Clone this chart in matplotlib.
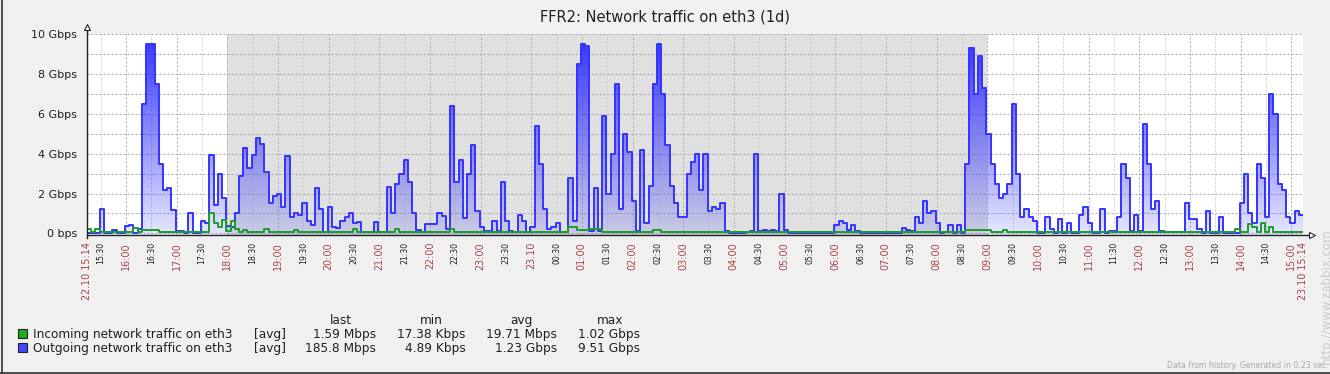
import numpy as np
import matplotlib
matplotlib.use("Agg")
import matplotlib.pyplot as plt
from matplotlib.patches import PathPatch, Rectangle
from matplotlib.lines import Line2D

W, H = 1330, 374

title = "FFR2: Network traffic on eth3 (1d)"

# one sample every 5 minutes from 22.10 15:14, values in Gbps (12 samples = 1 hour per row)
step_min = 5
outgoing = [
    0.0, 0.0, 0.0, 1.2, 0.0, 0.0, 0.15, 0.0, 0.0, 0.35, 0.4, 0.0,
    0.2, 6.5, 9.5, 9.5, 7.5, 3.5, 2.2, 2.3, 1.15, 0.1, 0.1, 0.0,
    1.0, 0.0, 0.0, 0.6, 0.5, 3.95, 1.4, 3.0, 1.8, 0.35, 0.3, 1.0,
    2.9, 4.28, 3.3, 3.95, 4.8, 4.5, 3.1, 1.5, 1.9, 2.0, 1.3, 3.9,
    0.8, 1.0, 0.9, 1.5, 0.6, 0.4, 2.3, 1.2, 0.05, 1.3, 0.3, 0.25,
    0.6, 0.8, 1.0, 0.5, 0.55, 0.05, 0.05, 0.05, 0.55, 0.05, 0.05, 2.33,
    1.0, 2.5, 3.0, 3.67, 2.6, 1.0, 0.15, 0.05, 0.48, 0.48, 0.48, 1.0,
    0.87, 0.2, 6.4, 2.6, 3.7, 0.78, 3.0, 4.45, 1.1, 0.3, 0.1, 0.1,
    0.6, 0.1, 2.6, 0.6, 0.1, 0.05, 0.9, 0.6, 0.05, 0.3, 5.4, 3.5,
    1.2, 0.2, 0.3, 0.5, 0.05, 0.05, 2.8, 0.6, 8.5, 9.5, 9.4, 0.1,
    2.3, 0.1, 5.9, 2.0, 4.0, 7.5, 1.2, 5.0, 4.08, 1.6, 0.1, 4.2,
    0.5, 2.4, 7.5, 9.5, 7.0, 4.45, 2.4, 1.5, 0.8, 0.8, 3.0, 3.6,
    4.0, 2.2, 4.0, 1.1, 1.3, 1.2, 1.5, 0.1, 0.0, 0.0, 0.0, 0.0,
    0.05, 0.1, 4.0, 0.1, 0.15, 0.1, 0.15, 0.1, 2.0, 0.15, 0.0, 0.0,
    0.0, 0.0, 0.0, 0.0, 0.0, 0.0, 0.0, 0.0, 0.0, 0.4, 0.6, 0.5,
    0.15, 0.4, 0.1, 0.0, 0.0, 0.0, 0.0, 0.0, 0.0, 0.0, 0.0, 0.0,
    0.0, 0.25, 0.15, 0.1, 0.8, 0.5, 1.6, 1.0, 1.1, 0.5, 0.0, 0.05,
    0.4, 0.0, 0.4, 0.0, 3.5, 9.3, 7.0, 8.9, 7.3, 5.0, 3.5, 2.5,
    1.8, 2.0, 2.5, 6.5, 3.0, 0.8, 1.2, 0.8, 0.6, 0.0, 0.0, 0.8,
    0.2, 0.0, 0.7, 0.0, 0.5, 0.0, 0.0, 0.9, 1.3, 0.5, 0.0, 0.0,
    1.2, 0.0, 0.1, 0.1, 0.8, 3.5, 2.8, 0.1, 0.9, 0.1, 5.5, 3.5,
    1.2, 1.6, 0.1, 0.05, 0.05, 0.05, 0.05, 0.05, 1.5, 0.7, 0.7, 0.2,
    0.0, 1.1, 0.0, 0.0, 0.8, 0.0, 0.0, 0.0, 0.0, 1.5, 3.0, 1.0,
    0.5, 3.5, 2.8, 0.8, 7.0, 6.0, 2.5, 2.2, 0.8, 0.5, 1.1, 0.9,
]
incoming = [
    0.2, 0.06, 0.2, 0.06, 0.06, 0.06, 0.06, 0.06, 0.06, 0.06, 0.06, 0.28,
    0.06, 0.15, 0.15, 0.15, 0.15, 0.06, 0.06, 0.06, 0.06, 0.06, 0.06, 0.06,
    0.06, 0.06, 0.06, 0.06, 0.06, 1.0, 0.5, 0.3, 0.67, 0.1, 0.6, 0.2,
    0.06, 0.15, 0.06, 0.06, 0.06, 0.06, 0.2, 0.06, 0.06, 0.06, 0.06, 0.06,
    0.06, 0.15, 0.06, 0.06, 0.06, 0.06, 0.06, 0.06, 0.06, 0.06, 0.06, 0.06,
    0.06, 0.06, 0.06, 0.2, 0.06, 0.06, 0.06, 0.06, 0.06, 0.06, 0.06, 0.06,
    0.06, 0.2, 0.06, 0.06, 0.06, 0.06, 0.06, 0.06, 0.06, 0.06, 0.06, 0.06,
    0.06, 0.06, 0.2, 0.06, 0.06, 0.06, 0.06, 0.06, 0.06, 0.06, 0.06, 0.06,
    0.06, 0.06, 0.06, 0.06, 0.06, 0.06, 0.06, 0.06, 0.06, 0.06, 0.06, 0.06,
    0.06, 0.06, 0.06, 0.06, 0.06, 0.06, 0.3, 0.3, 0.15, 0.15, 0.15, 0.2,
    0.2, 0.2, 0.06, 0.06, 0.06, 0.06, 0.06, 0.06, 0.06, 0.06, 0.06, 0.06,
    0.06, 0.06, 0.15, 0.15, 0.06, 0.06, 0.06, 0.06, 0.06, 0.06, 0.06, 0.06,
    0.06, 0.06, 0.06, 0.06, 0.06, 0.06, 0.06, 0.06, 0.06, 0.06, 0.06, 0.06,
    0.06, 0.06, 0.06, 0.06, 0.06, 0.06, 0.06, 0.06, 0.06, 0.06, 0.06, 0.06,
    0.06, 0.06, 0.06, 0.06, 0.06, 0.06, 0.06, 0.06, 0.06, 0.06, 0.06, 0.06,
    0.06, 0.06, 0.06, 0.06, 0.06, 0.06, 0.06, 0.06, 0.06, 0.06, 0.06, 0.06,
    0.06, 0.06, 0.06, 0.06, 0.06, 0.06, 0.06, 0.06, 0.06, 0.06, 0.06, 0.06,
    0.06, 0.06, 0.06, 0.06, 0.17, 0.17, 0.17, 0.17, 0.17, 0.17, 0.06, 0.06,
    0.06, 0.15, 0.06, 0.06, 0.06, 0.06, 0.06, 0.06, 0.06, 0.06, 0.06, 0.06,
    0.06, 0.06, 0.06, 0.06, 0.06, 0.06, 0.06, 0.06, 0.06, 0.06, 0.06, 0.06,
    0.06, 0.06, 0.06, 0.06, 0.06, 0.06, 0.06, 0.06, 0.06, 0.06, 0.06, 0.06,
    0.06, 0.06, 0.06, 0.06, 0.06, 0.06, 0.06, 0.06, 0.06, 0.06, 0.06, 0.06,
    0.06, 0.06, 0.06, 0.06, 0.06, 0.06, 0.06, 0.06, 0.2, 0.06, 0.06, 0.45,
    0.3, 0.06, 0.5, 0.06, 0.3, 0.06, 0.06, 0.06, 0.06, 0.06, 0.06, 0.06,
]

# minutes after 15:14 where the non-working time starts (18:00) and ends (09:00)
nonwork = (166, 1066)

start_label = "22.10 15:14"
end_label = "23.10 15:14"
hour_labels = ["16:00", "17:00", "18:00", "19:00", "20:00", "21:00", "22:00", "23:00",
               "23.10", "01:00", "02:00", "03:00", "04:00", "05:00", "06:00", "07:00",
               "08:00", "09:00", "10:00", "11:00", "12:00", "13:00", "14:00", "15:00"]
half_labels = ["15:30", "16:30", "17:30", "18:30", "19:30", "20:30", "21:30", "22:30",
               "23:30", "00:30", "01:30", "02:30", "03:30", "04:30", "05:30", "06:30",
               "07:30", "08:30", "09:30", "10:30", "11:30", "12:30", "13:30", "14:30"]
ytick_labels = ["0 bps", "2 Gbps", "4 Gbps", "6 Gbps", "8 Gbps", "10 Gbps"]

legend_names = ["Incoming network traffic on eth3", "Outgoing network traffic on eth3"]
legend_colors = ["#1cac1c", "#4444ff"]
stat_last = ["1.59 Mbps", "185.8 Mbps"]
stat_min = ["17.38 Kbps", "4.89 Kbps"]
stat_avg = ["19.71 Mbps", "1.23 Gbps"]
stat_max = ["1.02 Gbps", "9.51 Gbps"]


def fx(x):
    return x / W


def fy(y):
    return 1 - y / H


fig = plt.figure(figsize=(W / 100, H / 100), dpi=100, facecolor="#f0f0f0")
ax = fig.add_axes([fx(87), fy(235), 1216 / W, 201 / H])
ax.set_facecolor("white")

ymin = -0.08
t = np.arange(len(outgoing) + 1) * step_min
out_y = np.append(outgoing, outgoing[-1])
in_y = np.append(incoming, incoming[-1])

ax.axvspan(nonwork[0], nonwork[1], color="#e0e0e0", lw=0, zorder=0.1)

# gradient fill under the outgoing line
grad = np.zeros((256, 1, 4))
grad[..., 0] = 0x33 / 255
grad[..., 1] = 0x33 / 255
grad[..., 2] = 1.0
grad[:, 0, 3] = np.linspace(0.12, 1.0, 256)
im = ax.imshow(grad, extent=[0, t[-1], ymin, 10], origin="lower", aspect="auto",
               interpolation="bilinear", zorder=2)
fill = ax.fill_between(t, out_y, ymin, step="post", facecolor="none", edgecolor="none")
clip = PathPatch(fill.get_paths()[0], transform=ax.transData, facecolor="none", edgecolor="none")
ax.add_patch(clip)
im.set_clip_path(clip)

ax.plot(t, out_y, drawstyle="steps-post", color="#3333ff", lw=1.4, zorder=3)
ax.plot(t, in_y, drawstyle="steps-post", color="#1a9e26", lw=1.4, zorder=4)

ax.set_xlim(0, t[-1])
ax.set_ylim(ymin, 10)

hour_pos = [46 + 60 * k for k in range(len(hour_labels))]
half_pos = [16 + 60 * k for k in range(len(half_labels))]
ax.set_xticks([0] + hour_pos + [t[-1]], [start_label] + hour_labels + [end_label])
ax.set_xticks(half_pos, half_labels, minor=True)
ax.tick_params(axis="x", which="major", length=0, pad=5, labelsize=6.9,
               labelcolor="#aa4444", labelrotation=90)
ax.tick_params(axis="x", which="minor", length=0, pad=5, labelsize=5.6,
               labelcolor="#202020", labelrotation=90)

ax.set_yticks([0, 2, 4, 6, 8, 10], ytick_labels)
ax.set_yticks([1, 3, 5, 7, 9], minor=True)
ax.tick_params(axis="y", which="both", length=0, pad=7, labelsize=8, labelcolor="#202020")

ax.set_axisbelow(True)
dash = (0, (2, 2))
ax.xaxis.grid(True, which="major", color="#aaaaaa", ls=dash, lw=0.72)
ax.xaxis.grid(True, which="minor", color="#cccccc", ls=dash, lw=0.72)
ax.yaxis.grid(True, which="both", color="#aaaaaa", ls=dash, lw=0.72)

for s in ax.spines.values():
    s.set_visible(False)

# axes with open arrow heads
ax.plot([0, 0], [-0.015, 1.025], transform=ax.transAxes, color="#222222", lw=1,
        clip_on=False, zorder=6)
ax.plot([0, 1.005], [0, 0], transform=ax.transAxes, color="#222222", lw=1,
        clip_on=False, zorder=6)
ax.plot([0], [1.037], marker="^", ms=5, mfc="white", mec="#222222", mew=0.8,
        transform=ax.transAxes, clip_on=False, zorder=6)
ax.plot([1.0078], [0], marker=">", ms=5, mfc="white", mec="#222222", mew=0.8,
        transform=ax.transAxes, clip_on=False, zorder=6)

fig.text(0.5, fy(17), title, ha="center", va="center", fontsize=10.5, color="#202020")

# legend block
row_base = [338.3, 352.3]
for k in range(2):
    fig.add_artist(Rectangle((fx(17.5), fy(row_base[k])), 9.4 / W, 9.4 / H,
                             transform=fig.transFigure, facecolor=legend_colors[k],
                             edgecolor="#222222", lw=0.8))
    fig.text(fx(33.3), fy(row_base[k]), legend_names[k], ha="left", va="baseline",
             fontsize=8.7, color="#202020")
    fig.text(fx(254), fy(row_base[k]), "[avg]", ha="left", va="baseline",
             fontsize=8.7, color="#202020")
    for col, x_right in zip([stat_last, stat_min, stat_avg, stat_max], [376, 465.5, 557.3, 640]):
        fig.text(fx(x_right), fy(row_base[k]), col[k], ha="right", va="baseline",
                 fontsize=8.7, color="#202020")

for head, xc in zip(["last", "min", "avg", "max"], [341, 431.7, 521.7, 610]):
    fig.text(fx(xc), fy(324), head, ha="center", va="baseline", fontsize=8.7, color="#202020")

fig.text(fx(1329), fy(366), "Data from history. Generated in 0.23 sec.", ha="right",
         va="center", fontsize=5.6, color="#aaaaaa")
fig.text(fx(1326), fy(296), "http://www.zabbix.com", rotation=90, ha="center",
         va="center", fontsize=8.5, color="#cccccc")

# outer frame (left and bottom edges)
fig.add_artist(Line2D([fx(1.5), fx(1.5)], [0, 1], transform=fig.transFigure,
                      color="#333333", lw=1.2))
fig.add_artist(Line2D([0, 1], [fy(372.5), fy(372.5)], transform=fig.transFigure,
                      color="#333333", lw=1.2))

fig.savefig("out.png", dpi=100, facecolor=fig.get_facecolor())
